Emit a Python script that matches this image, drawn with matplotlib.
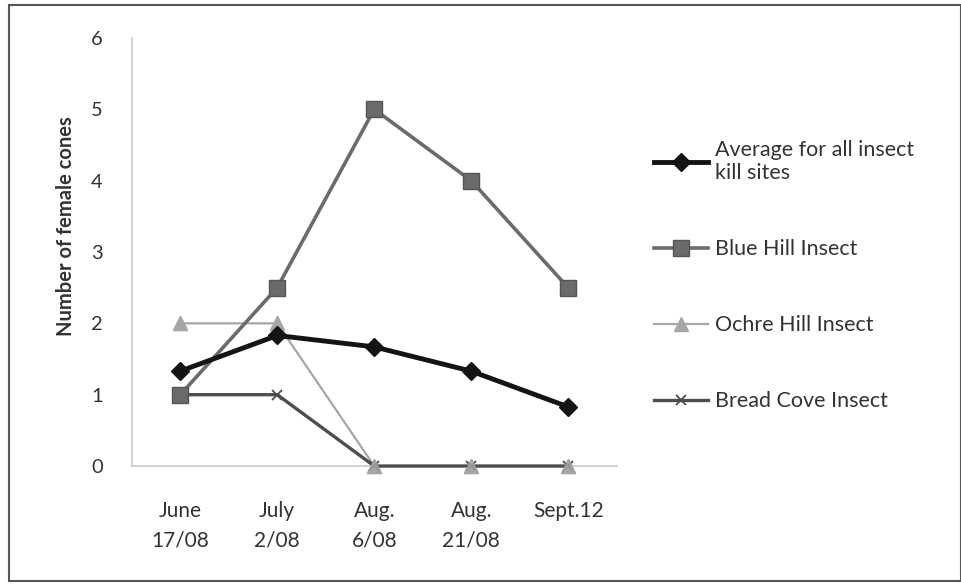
import matplotlib
matplotlib.use("Agg")
import matplotlib.pyplot as plt
from matplotlib.patches import Rectangle

plt.rcParams['font.family'] = ['Lato', 'DejaVu Sans']

categories = ["June\n17/08", "July\n2/08", "Aug.\n6/08", "Aug.\n21/08", "Sept.12"]
average = [1.33, 1.83, 1.67, 1.33, 0.83]
blue_hill = [1, 2.5, 5, 4, 2.5]
ochre_hill = [2, 2, 0, 0, 0]
bread_cove = [1, 1, 0, 0, 0]
yticks = [0, 1, 2, 3, 4, 5, 6]

fig = plt.figure(figsize=(9.62, 5.84), dpi=100)
fig.patch.set_facecolor('white')
ax = fig.add_axes([0.137, 0.202, 0.504, 0.733])

x = list(range(len(categories)))
l3, = ax.plot(x, ochre_hill, color='#a6a6a6', lw=1.6, marker='^', ms=10, zorder=3,
              clip_on=False, label='Ochre Hill Insect')
l4, = ax.plot(x, bread_cove, color='#4d4d4d', lw=2.4, marker='x', ms=7, mew=1.3, zorder=4,
              clip_on=False, label='Bread Cove Insect')
# ochre markers drawn over the Bread Cove line (as in the reference)
ax.plot(x, ochre_hill, ls='none', color='#a6a6a6', marker='^', ms=10, alpha=0.85, zorder=4.5,
        clip_on=False)
l2, = ax.plot(x, blue_hill, color='#6b6b6b', lw=2.6, marker='s', ms=12, mec='#555555', zorder=5,
              clip_on=False, label='Blue Hill Insect')
l1, = ax.plot(x, average, color='#141414', lw=3.5, marker='D', ms=9, zorder=6,
              clip_on=False, label='Average for all insect\nkill sites')

ax.set_xlim(-0.5, len(categories) - 0.5)
ax.set_ylim(0, 6)
ax.set_yticks(yticks)
ax.set_xticks(x)
ax.set_xticklabels(categories, fontsize=15, color='#333333', linespacing=1.6)
ax.tick_params(axis='y', labelsize=14.5, labelcolor='#333333', length=0, pad=21)
ax.tick_params(axis='x', length=0, pad=25)
for s in ['top', 'right']:
    ax.spines[s].set_visible(False)
ax.spines['left'].set_color('#c8c8c8')
ax.spines['bottom'].set_color('#c8c8c8')
ax.spines['left'].set_linewidth(1.2)
ax.spines['bottom'].set_linewidth(1.2)
ax.set_ylabel('Number of female cones', fontsize=14.5, fontweight='bold', color='#333333')
ax.yaxis.set_label_coords(-0.115, 0.561)

leg = ax.legend(handles=[l1, l2, l3, l4], loc='center left', bbox_to_anchor=(1.06, 0.445),
                frameon=False, fontsize=15.5, labelspacing=2.6, handlelength=2.47,
                handletextpad=0.37, labelcolor='#333333', borderaxespad=0)

fig.add_artist(Rectangle((0.009, 0.005), 0.99, 0.986, transform=fig.transFigure,
                         fill=False, edgecolor='#555555', lw=1.5))

fig.savefig('out.png', dpi=100)
